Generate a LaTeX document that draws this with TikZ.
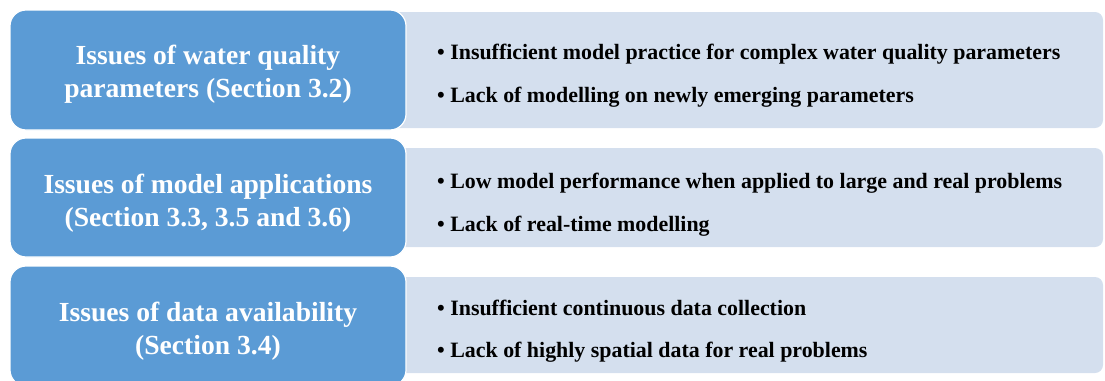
\documentclass[tikz,border=0pt]{standalone}
\usepackage{fontspec}
\setmainfont{Liberation Serif}
\definecolor{issueblue}{HTML}{5B9BD5}
\definecolor{detailfill}{HTML}{D4DFEE}
\begin{document}
\begin{tikzpicture}[x=1pt,y=-1pt,
  issuebox/.style={fill=issueblue,draw=white,line width=1.2pt,rounded corners=16pt},
  detailbox/.style={fill=detailfill,draw=none,rounded corners=8pt},
  heading/.style={anchor=base,inner sep=0pt,text=white,font=\fontsize{27.6}{33}\selectfont\bfseries},
  bulletline/.style={anchor=base west,inner sep=0pt,text=black,font=\fontsize{21.9}{26}\selectfont\bfseries}]
  \useasboundingbox (0,0) rectangle (1105,380);
  \clip (0,0) rectangle (1105,380);

  % detail panels (left ends tucked under the issue boxes)
  \path[detailbox] (380,12) rectangle (1103,128);
  \path[detailbox] (380,148) rectangle (1103,247);
  \path[detailbox] (380,277) rectangle (1103,373);

  % issue boxes
  \path[issuebox] (10,10) rectangle (406,130);
  \path[issuebox] (10,138) rectangle (406,257);
  \path[issuebox] (10,266) rectangle (406,386);

  % headings
  \node[heading] (h1a) at (208,64.3) {Issues of water quality};
  \node[heading] (h1b) at (208,97.3) {parameters (Section 3.2)};
  \node[heading] (h2a) at (208,193) {Issues of model applications};
  \node[heading] (h2b) at (208,226) {(Section 3.3, 3.5 and 3.6)};
  \node[heading] (h3a) at (208,321) {Issues of data availability};
  \node[heading] (h3b) at (208,354) {(Section 3.4)};

  % bullet points
  \node[bulletline] (b1a) at (437,59) {• Insufficient model practice for complex water quality parameters};
  \node[bulletline] (b1b) at (437,102.5) {• Lack of modelling on newly emerging parameters};
  \node[bulletline] (b2a) at (437,188) {• Low model performance when applied to large and real problems};
  \node[bulletline] (b2b) at (437,231) {• Lack of real-time modelling};
  \node[bulletline] (b3a) at (437,315.5) {• Insufficient continuous data collection};
  \node[bulletline] (b3b) at (437,357.5) {• Lack of highly spatial data for real problems};
\end{tikzpicture}
\end{document}
